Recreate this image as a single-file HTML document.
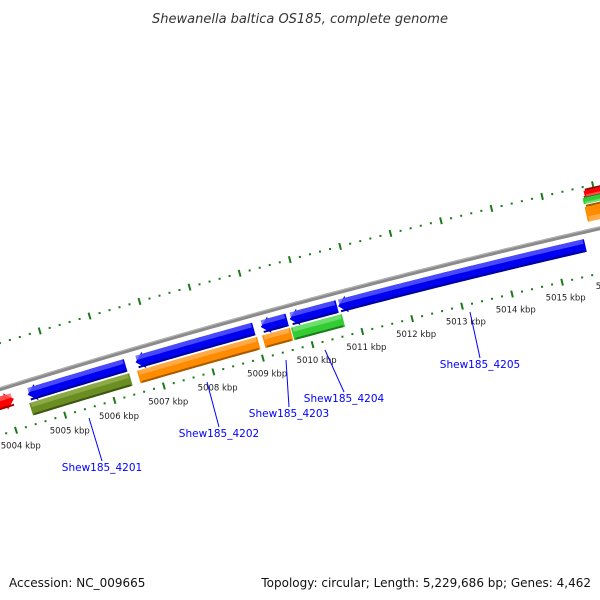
<!DOCTYPE html>
<html><head><meta charset="utf-8">
<style>
html,body{margin:0;padding:0;background:#fff;}
svg{display:block;font-family:"DejaVu Sans","Liberation Sans",sans-serif;}
</style></head>
<body>
<svg id="map" width="600" height="600" viewBox="0 0 600 600" xmlns="http://www.w3.org/2000/svg">
<rect width="600" height="600" fill="#fff"/>
<text x="300" y="23" text-anchor="middle" font-size="13" font-style="italic" fill="#333">Shewanella baltica OS185, complete genome</text>
<text x="9" y="587" font-size="12" fill="#111">Accession: NC_009665</text>
<text x="591" y="587" text-anchor="end" font-size="12" fill="#111">Topology: circular; Length: 5,229,686 bp; Genes: 4,462</text>
<g id="layer"></g>
</svg>
<script>
// data
const tickKbp = [5003,5004,5005,5006,5007,5008,5009,5010,5011,5012,5013,5014,5015,5016];
const tickLabels = ["5003 kbp","5004 kbp","5005 kbp","5006 kbp","5007 kbp","5008 kbp","5009 kbp","5010 kbp","5011 kbp","5012 kbp","5013 kbp","5014 kbp","5015 kbp","5016 kbp"];
const featStart = [5003.3,5004.42,5006.6,5009.12,5009.7,5010.67,5004.4,5006.58,5009.1,5009.68,5015.75,5015.75,5015.8];
const featEnd   = [5004.14,5006.4,5008.98,5009.65,5010.65,5015.6,5006.42,5009.0,5009.66,5010.7,5016.6,5016.6,5016.6];
const featTrack = [0,0,0,0,0,0,1,1,1,1,2,3,4];
const featColor = ["red","blue","blue","blue","blue","blue","olive","orange","orange","green","orange","green","red"];
const featDir   = [1,-1,-1,-1,-1,-1,0,0,0,0,0,0,1];
const geneNames = ["Shew185_4201","Shew185_4202","Shew185_4203","Shew185_4204","Shew185_4205"];
const geneLabelX = [102,219,289,344,480];
const geneLabelY = [471,437,417,402,368];
const geneAnchorX = [89,207,286,325,470];
const geneAnchorY = [418,382,360,350,312];

// geometry
const CX=2370, CY=8030, R=8000;
const trackIn  = [-20,-35,24,33,40];
const trackOut = [-7,-22,9,27,34];
const palette = {blue:["#0000f0","#5a5aff","#00009a"],orange:["#ff8c00","#ffb255","#a85a00"],olive:["#6b8e23","#93b04e","#3f5512"],green:["#33cc33","#7be27b","#1d7a1d"],red:["#ff0000","#ff6060","#a00000"]};
function phi(k){return (107.21-0.3705*(k-5004))*Math.PI/180;}
function pt(k,off){const a=phi(k),r=R+off;return [CX+r*Math.cos(a),CY-r*Math.sin(a)];}
const layer=document.getElementById('layer');
const NS="http://www.w3.org/2000/svg";
function mk(tag,attrs){const e=document.createElementNS(NS,tag);for(const k in attrs)e.setAttribute(k,attrs[k]);layer.appendChild(e);return e;}
function arcPts(k1,k2,off){const p=[];const n=Math.max(2,Math.ceil((k2-k1)*10));for(let i=0;i<=n;i++)p.push(pt(k1+(k2-k1)*i/n,off));return p;}
function band(k1,k2,o1,o2,dir){
  const head=0.17;let pts=[];
  const mid=(o1+o2)/2;
  let a=k1,b=k2;
  if(dir<0)a=Math.min(k1+head,k2);
  if(dir>0)b=Math.max(k2-head,k1);
  pts=pts.concat(arcPts(a,b,o2));
  if(dir>0){pts.push(pt(b,o2+2));pts.push(pt(k2,mid));pts.push(pt(b,o1-2));}
  pts=pts.concat(arcPts(a,b,o1).reverse());
  if(dir<0){pts.push(pt(a,o1-2));pts.push(pt(k1,mid));pts.push(pt(a,o2+2));}
  return "M"+pts.map(p=>p[0].toFixed(1)+","+p[1].toFixed(1)).join("L")+"Z";
}

// backbone
let bb=mk('path',{d:"M"+arcPts(5002,5017,0).map(p=>p.join(",")).join("L"),stroke:"#8a8a8a","stroke-width":4,fill:"none"});


let bb2=mk('path',{d:"M"+arcPts(5002,5017,1.3).map(p=>p.join(",")).join("L"),stroke:"#b5b5b5","stroke-width":1,fill:"none"});



// rulers
[-44,44].forEach(function(off){
  for(let k=5002;k<=5017.001;k+=0.2){
    const kk=Math.round(k*10)/10;
    const major=Math.abs(kk-Math.round(kk))<0.01;
    let e;
    if(major){const a=pt(kk,off-3.5),b=pt(kk,off+3.5);
      e=mk('line',{x1:a[0],y1:a[1],x2:b[0],y2:b[1],stroke:"#1a7a1a","stroke-width":2});
      
    } else {const a=pt(kk,off);
      e=mk('rect',{x:a[0]-1,y:a[1]-1,width:2,height:2,fill:"#1a7a1a"});
      
    }
    
  }
});
tickKbp.forEach(function(k,i){
  const p=pt(k,-60);
  const t=mk('text',{x:p[0].toFixed(1),y:(p[1]+3).toFixed(1),"text-anchor":"middle","font-size":"8.5",fill:"#222"});
  t.textContent=tickLabels[i];
  
  
});

// features
featStart.forEach(function(s,i){
  const c=palette[featColor[i]];const tr=featTrack[i];
  const o1=trackIn[tr],o2=trackOut[tr];
  const g=mk('path',{d:band(s,featEnd[i],o1,o2,featDir[i]),fill:c[0]});
  
  
  const h=mk('path',{d:band(s+0.03,featEnd[i]-0.03,o2-(o2-o1)*0.35,o2,featDir[i]*0),fill:c[1],opacity:0.8});
  
  
  const d=mk('path',{d:band(s+0.03,featEnd[i]-0.03,o1,o1+2,0),fill:c[2]});
  
  
});

// gene labels
geneNames.forEach(function(n,i){
  const l=mk('line',{x1:geneAnchorX[i],y1:geneAnchorY[i],x2:geneLabelX[i],y2:geneLabelY[i]-10,stroke:"#0000ff","stroke-width":1});
  
  
  const t=mk('text',{x:geneLabelX[i],y:geneLabelY[i],"text-anchor":"middle","font-size":"10.5",fill:"#0000ff"});
  t.textContent=n;
  
  
});
</script>
</body></html>
